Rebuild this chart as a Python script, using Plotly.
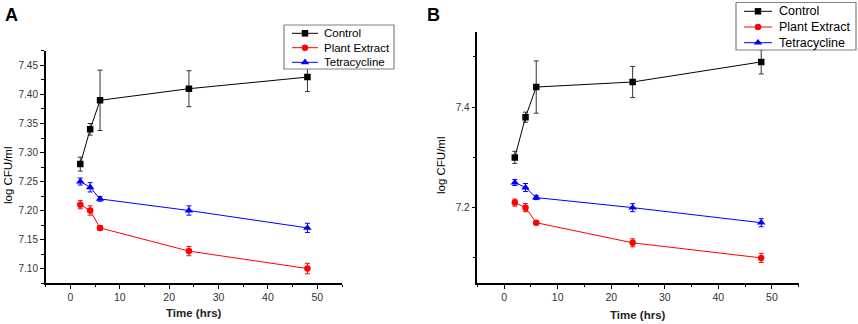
import plotly.graph_objects as go

time_hrs = [2, 4, 6, 24, 48]

# Panel A
a_control = [7.28, 7.34, 7.39, 7.41, 7.43]
a_control_err = [0.012, 0.010, 0.052, 0.031, 0.025]
a_plant = [7.21, 7.20, 7.17, 7.13, 7.10]
a_plant_err = [0.007, 0.008, 0.004, 0.008, 0.009]
a_tetra = [7.25, 7.24, 7.22, 7.20, 7.17]
a_tetra_err = [0.006, 0.008, 0.004, 0.008, 0.008]

# Panel B
b_control = [7.30, 7.38, 7.44, 7.45, 7.49]
b_control_err = [0.012, 0.010, 0.052, 0.031, 0.024]
b_plant = [7.21, 7.20, 7.17, 7.13, 7.10]
b_plant_err = [0.007, 0.008, 0.004, 0.008, 0.009]
b_tetra = [7.25, 7.24, 7.22, 7.20, 7.17]
b_tetra_err = [0.006, 0.008, 0.004, 0.008, 0.008]

series_names = ["Control", "Plant Extract", "Tetracycline"]
colors = ["#000000", "#ff0000", "#0000ff"]
err_colors = ["#333333", "#ff0000", "#0000ff"]
symbols = ["square", "circle", "triangle-up"]
sizes = [6.5, 6.5, 7.5]

FONT = "Liberation Sans, Arial, sans-serif"
W, H = 858, 324

fig = go.Figure()

panels = [
    ("x", "y", [a_control, a_plant, a_tetra], [a_control_err, a_plant_err, a_tetra_err]),
    ("x2", "y2", [b_control, b_plant, b_tetra], [b_control_err, b_plant_err, b_tetra_err]),
]
for xa, ya, vals, errs in panels:
    for name, c, ec, s, sz, v, e in zip(series_names, colors, err_colors, symbols, sizes, vals, errs):
        fig.add_trace(go.Scatter(
            x=time_hrs, y=v, name=name, mode="lines+markers",
            xaxis=xa, yaxis=ya, showlegend=False,
            line=dict(color=c, width=1),
            marker=dict(color=c, symbol=s, size=sz),
            error_y=dict(type="data", array=e, visible=True, color=ec, thickness=1, width=2.5),
        ))

# ---- hand-drawn legends (pixel layout on an overlay axis covering the whole figure) ----
legend_layouts = [
    # box x0, x1, y0, y1, sample x0, x1, text x, row ys, font size
    dict(box=(284, 394, 25, 69), line=(292, 318), tx=322, rows=(33.3, 47.7, 62.3), fs=11.5),
    dict(box=(736, 856, 2.5, 50), line=(744, 772), tx=777, rows=(11.3, 27, 42.7), fs=12.5),
]
for lg in legend_layouts:
    bx0, bx1, by0, by1 = lg["box"]
    fig.add_trace(go.Scatter(
        x=[bx0, bx1, bx1, bx0, bx0], y=[by0, by0, by1, by1, by0],
        mode="lines", fill="toself", fillcolor="white",
        line=dict(color="#808080", width=1.2),
        xaxis="x3", yaxis="y3", showlegend=False, hoverinfo="skip",
    ))
    lx0, lx1 = lg["line"]
    for name, c, s, sz, ry in zip(series_names, colors, symbols, sizes, lg["rows"]):
        fig.add_trace(go.Scatter(
            x=[lx0, lx1], y=[ry, ry], mode="lines",
            line=dict(color=c, width=1), xaxis="x3", yaxis="y3",
            showlegend=False, hoverinfo="skip",
        ))
        fig.add_trace(go.Scatter(
            x=[(lx0 + lx1) / 2], y=[ry], mode="markers",
            marker=dict(color=c, symbol=s, size=sz), xaxis="x3", yaxis="y3",
            showlegend=False, hoverinfo="skip",
        ))
        fig.add_annotation(
            text=name, x=lg["tx"], y=ry, xref="x3", yref="y3",
            xanchor="left", yanchor="middle", showarrow=False,
            font=dict(family=FONT, size=lg["fs"], color="black"),
        )

axis_common = dict(
    showline=True, linecolor="black", linewidth=1.5, ticks="outside", ticklen=4,
    tickwidth=1.2, tickcolor="black", showgrid=False, zeroline=False,
    tickfont=dict(family=FONT, size=10, color="#333333"),
)
xa_common = dict(axis_common, range=[-5, 55], dtick=10, tick0=0,
                 tickfont=dict(family=FONT, size=10.5, color="#333333"),
                 minor=dict(dtick=5, ticks="outside", ticklen=2.5, tickcolor="black"))

fig.update_layout(
    width=W, height=H,
    margin=dict(l=0, r=0, t=0, b=0),
    paper_bgcolor="white", plot_bgcolor="rgba(0,0,0,0)",
    font=dict(family=FONT, color="black"),
    showlegend=False,
    xaxis=dict(xa_common, domain=[0.0533, 0.3986], anchor="y"),
    yaxis=dict(axis_common, domain=[0.1265, 0.8426], anchor="x",
               range=[7.075, 7.475], dtick=0.05, tick0=7.0, tickformat=".2f",
               minor=dict(dtick=0.025, ticks="outside", ticklen=2.5, tickcolor="black")),
    xaxis2=dict(xa_common, domain=[0.5563, 0.9309], anchor="y2"),
    yaxis2=dict(axis_common, domain=[0.1265, 0.902], anchor="x2",
                range=[7.05, 7.55], dtick=0.2, tick0=7.0, tickformat=".1f",
                minor=dict(dtick=0.1, ticks="outside", ticklen=2.5, tickcolor="black")),
    xaxis3=dict(domain=[0, 1], range=[0, W], visible=False, fixedrange=True, anchor="y3"),
    yaxis3=dict(domain=[0, 1], range=[H, 0], visible=False, fixedrange=True, anchor="x3"),
)

texts = [
    dict(text="<b>A</b>", x=2.5 / W, y=1 - 3 / H, xanchor="left", yanchor="top", textangle=0,
         font=dict(family=FONT, size=18, color="black")),
    dict(text="<b>B</b>", x=425 / W, y=1 - 3 / H, xanchor="left", yanchor="top", textangle=0,
         font=dict(family=FONT, size=18, color="black")),
    dict(text="<b>Time (hrs)</b>", x=194 / W, y=1 - 313 / H, xanchor="center", yanchor="middle", textangle=0,
         font=dict(family=FONT, size=11.5, color="#222222")),
    dict(text="<b>Time (hrs)</b>", x=638 / W, y=1 - 315 / H, xanchor="center", yanchor="middle", textangle=0,
         font=dict(family=FONT, size=11.5, color="#222222")),
    dict(text="log CFU/ml", x=8 / W, y=1 - 175 / H, xanchor="center", yanchor="middle", textangle=-90,
         font=dict(family=FONT, size=11.5, color="black")),
    dict(text="log CFU/ml", x=441 / W, y=1 - 165 / H, xanchor="center", yanchor="middle", textangle=-90,
         font=dict(family=FONT, size=11.5, color="black")),
]
for t in texts:
    fig.add_annotation(xref="paper", yref="paper", showarrow=False, **t)

fig.write_html("out.html", config={"displayModeBar": False},
               post_script="document.body.style.margin='0';document.body.style.overflow='hidden';")
